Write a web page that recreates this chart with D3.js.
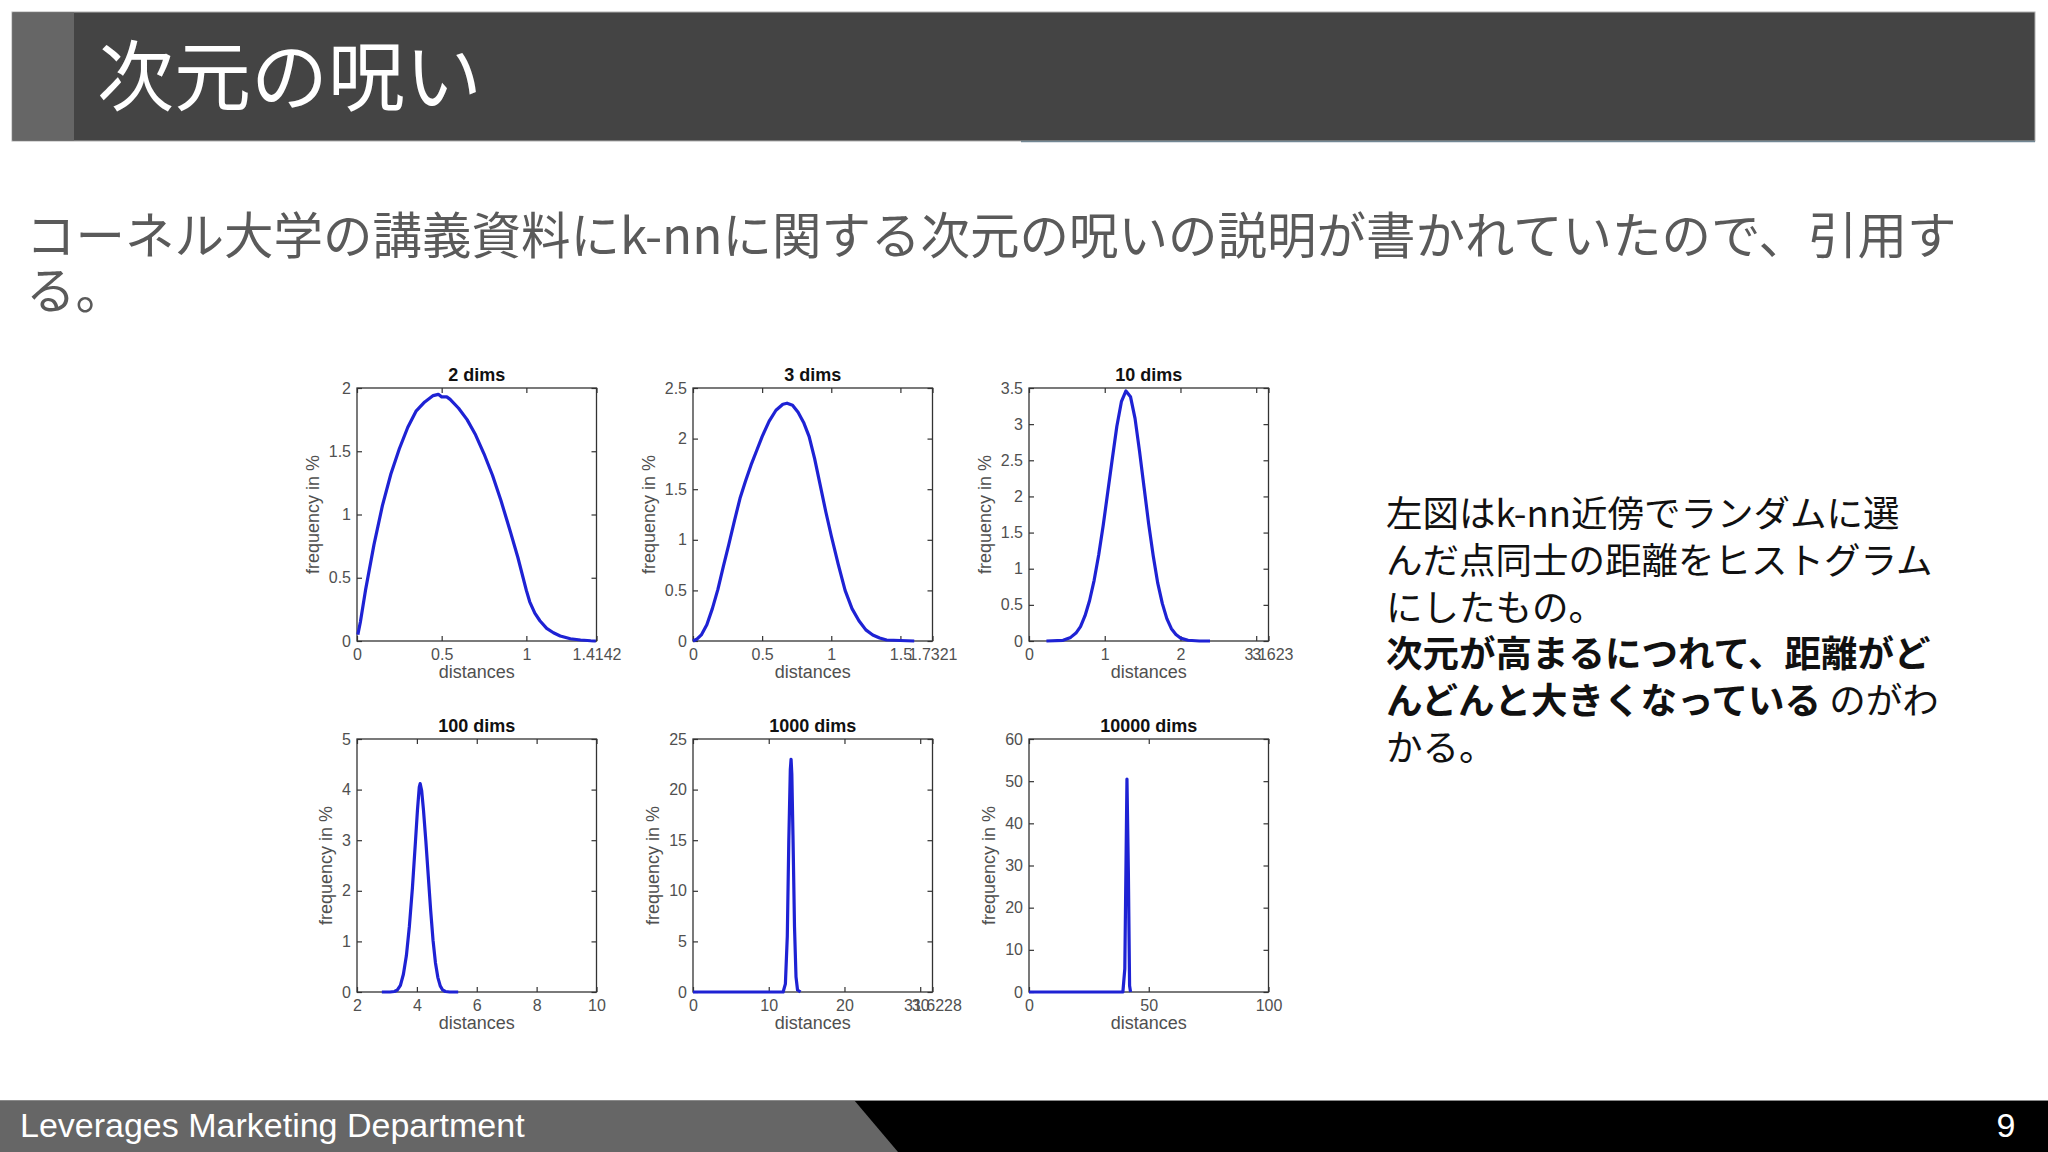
<!DOCTYPE html>
<html><head><meta charset="utf-8">
<script src="https://cdn.jsdelivr.net/npm/d3@7"></script>
<style>html,body{margin:0;padding:0;background:#fff;} svg{display:block;}</style>
</head><body>
<svg id="c" width="2048" height="1152"></svg>
<script>
// ---------- text content ----------
const slideTitle = "次元の呪い";
const introLines = ["コーネル大学の講義資料にk-nnに関する次元の呪いの説明が書かれていたので、引用す", "る。"];
const noteLines = [
  [["左図はk-nn近傍でランダムに選", false]],
  [["んだ点同士の距離をヒストグラム", false]],
  [["にしたもの。", false]],
  [["次元が高まるにつれて、距離がど", true]],
  [["んどんと大きくなっている", true], [" のがわ", false]],
  [["かる。", false]]
];
const footerText = "Leverages Marketing Department";
const pageNumber = "9";

// ---------- chart data ----------
const panelTitles = ["2 dims", "3 dims", "10 dims", "100 dims", "1000 dims", "10000 dims"];
const xDomains = [[0, 1.4142], [0, 1.7321], [0, 3.1623], [2, 10], [0, 31.6228], [0, 100]];
const yDomains = [[0, 2], [0, 2.5], [0, 3.5], [0, 5], [0, 25], [0, 60]];
const xTickValues = [[0, 0.5, 1, 1.4142], [0, 0.5, 1, 1.5, 1.7321], [0, 1, 2, 3, 3.1623], [2, 4, 6, 8, 10], [0, 10, 20, 30, 31.6228], [0, 50, 100]];
const xTickLabels = [["0", "0.5", "1", "1.4142"], ["0", "0.5", "1", "1.5", "1.7321"], ["0", "1", "2", "3", "3.1623"], ["2", "4", "6", "8", "10"], ["0", "10", "20", "30", "31.6228"], ["0", "50", "100"]];
const yTickValues = [[0, 0.5, 1, 1.5, 2], [0, 0.5, 1, 1.5, 2, 2.5], [0, 0.5, 1, 1.5, 2, 2.5, 3, 3.5], [0, 1, 2, 3, 4, 5], [0, 5, 10, 15, 20, 25], [0, 10, 20, 30, 40, 50, 60]];
const yTickLabels = [["0", "0.5", "1", "1.5", "2"], ["0", "0.5", "1", "1.5", "2", "2.5"], ["0", "0.5", "1", "1.5", "2", "2.5", "3", "3.5"], ["0", "1", "2", "3", "4", "5"], ["0", "5", "10", "15", "20", "25"], ["0", "10", "20", "30", "40", "50", "60"]];
const xLabel = "distances";
const yLabel = "frequency in %";

const dist2 = [0.005, 0.02, 0.05, 0.10, 0.15, 0.20, 0.25, 0.30, 0.35, 0.40, 0.45, 0.48, 0.50, 0.53, 0.55, 0.60, 0.65, 0.70, 0.75, 0.80, 0.85, 0.90, 0.95, 1.00, 1.02, 1.05, 1.08, 1.12, 1.16, 1.20, 1.26, 1.32, 1.38, 1.41];
const freq2 = [0.05, 0.15, 0.40, 0.76, 1.07, 1.32, 1.52, 1.69, 1.82, 1.89, 1.94, 1.95, 1.93, 1.93, 1.91, 1.84, 1.75, 1.63, 1.48, 1.31, 1.11, 0.89, 0.66, 0.40, 0.31, 0.22, 0.16, 0.10, 0.065, 0.04, 0.018, 0.008, 0.002, 0.0];

const dist3 = [0.00, 0.03, 0.06, 0.10, 0.14, 0.18, 0.22, 0.26, 0.30, 0.34, 0.38, 0.42, 0.46, 0.50, 0.55, 0.60, 0.65, 0.68, 0.72, 0.76, 0.80, 0.84, 0.88, 0.92, 0.96, 1.00, 1.05, 1.10, 1.15, 1.20, 1.25, 1.30, 1.35, 1.40, 1.50, 1.60];
const freq3 = [0.00, 0.02, 0.06, 0.16, 0.32, 0.51, 0.74, 0.96, 1.19, 1.41, 1.58, 1.74, 1.88, 2.02, 2.17, 2.28, 2.34, 2.35, 2.33, 2.26, 2.16, 2.02, 1.80, 1.54, 1.28, 1.04, 0.76, 0.50, 0.32, 0.20, 0.11, 0.06, 0.03, 0.01, 0.005, 0.00];

const dist10 = [0.23, 0.45, 0.55, 0.62, 0.68, 0.74, 0.80, 0.86, 0.92, 0.98, 1.04, 1.10, 1.16, 1.22, 1.28, 1.34, 1.40, 1.46, 1.52, 1.58, 1.64, 1.70, 1.76, 1.82, 1.88, 1.94, 2.00, 2.10, 2.25, 2.39];
const freq10 = [0.00, 0.01, 0.05, 0.11, 0.20, 0.35, 0.56, 0.84, 1.19, 1.60, 2.06, 2.52, 2.97, 3.31, 3.46, 3.38, 3.08, 2.62, 2.12, 1.62, 1.18, 0.80, 0.52, 0.31, 0.17, 0.09, 0.04, 0.01, 0.00, 0.00];

const dist100 = [2.83, 3.10, 3.25, 3.35, 3.45, 3.55, 3.65, 3.75, 3.85, 3.95, 4.02, 4.08, 4.11, 4.16, 4.22, 4.30, 4.38, 4.46, 4.54, 4.62, 4.70, 4.78, 4.86, 4.95, 5.10, 5.38];
const freq100 = [0.00, 0.00, 0.01, 0.04, 0.13, 0.35, 0.72, 1.30, 2.05, 2.95, 3.60, 4.05, 4.12, 3.98, 3.60, 2.98, 2.30, 1.62, 1.02, 0.58, 0.29, 0.12, 0.04, 0.01, 0.00, 0.00];

const dist1000 = [0, 11.9, 12.2, 12.45, 12.65, 12.85, 12.95, 13.05, 13.2, 13.4, 13.6, 13.8, 14.2];
const freq1000 = [0, 0, 0.8, 5.5, 15.0, 22.0, 23.0, 21.5, 15.5, 6.5, 1.5, 0.2, 0];

const dist10000 = [0, 39.2, 40.0, 40.9, 41.5, 42.0, 42.4];
const freq10000 = [0, 0, 5.5, 50.5, 28.0, 1.5, 0];

const seriesX = [dist2, dist3, dist10, dist100, dist1000, dist10000];
const seriesY = [freq2, freq3, freq10, freq100, freq1000, freq10000];

// ---------- drawing ----------
const svg = d3.select("#c");
const JP = "'Noto Sans CJK JP', 'Noto Sans', sans-serif";
const SANS = "'Liberation Sans', Arial, Helvetica, sans-serif";

// header
svg.append("rect").attr("x", 12).attr("y", 12).attr("width", 2023).attr("height", 129)
  .attr("fill", "#444444").attr("stroke", "#b0b0b0").attr("stroke-width", 1);
svg.append("rect").attr("x", 12.5).attr("y", 12.5).attr("width", 61.5).attr("height", 128)
  .attr("fill", "#666666");
svg.append("line").attr("x1", 1021).attr("x2", 2035).attr("y1", 141.5).attr("y2", 141.5)
  .attr("stroke", "#5a7484").attr("stroke-width", 1.5).attr("opacity", 0.8);
svg.append("text").attr("x", 97).attr("y", 71).attr("dominant-baseline", "central")
  .attr("font-family", JP).attr("font-size", 77).attr("fill", "#ffffff").text(slideTitle);

// intro text
svg.selectAll("text.intro").data(introLines).enter().append("text").attr("class", "intro")
  .attr("x", 26).attr("y", (d, i) => 232 + i * 55).attr("dominant-baseline", "central")
  .attr("font-family", JP).attr("font-size", 49.5).attr("fill", "#5a5a5a").text(d => d);

// note text
const note = svg.selectAll("text.note").data(noteLines).enter().append("text").attr("class", "note")
  .attr("x", 1386).attr("y", (d, i) => 511 + i * 46.8).attr("dominant-baseline", "central")
  .attr("font-family", JP).attr("font-size", 36.5).attr("fill", "#111111");
note.selectAll("tspan").data(d => d).enter().append("tspan")
  .attr("font-weight", d => d[1] ? 700 : 400).style("white-space", "pre").text(d => d[0]);

// panels
const colLeft = [357, 693, 1029];
const rowTop = [388, 739];
const pw = 239.5, ph = 253;

panelTitles.forEach((title, i) => {
  const col = i % 3, row = Math.floor(i / 3);
  const g = svg.append("g").attr("transform", `translate(${colLeft[col]},${rowTop[row]})`);
  const x = d3.scaleLinear().domain(xDomains[i]).range([0, pw]);
  const y = d3.scaleLinear().domain(yDomains[i]).range([ph, 0]);

  const xl = xTickLabels[i], yl = yTickLabels[i];
  const axB = d3.axisBottom(x).tickValues(xTickValues[i]).tickSize(-5).tickPadding(8)
    .tickFormat((d, k) => xl[k]);
  const axT = d3.axisTop(x).tickValues(xTickValues[i]).tickSize(-5).tickFormat("");
  const axL = d3.axisLeft(y).tickValues(yTickValues[i]).tickSize(-5).tickPadding(6)
    .tickFormat((d, k) => yl[k]);
  const axR = d3.axisRight(y).tickValues(yTickValues[i]).tickSize(-5).tickFormat("");

  const style = sel => {
    sel.select(".domain").remove();
    sel.selectAll(".tick line").attr("stroke", "#333").attr("stroke-width", 1.2);
    sel.selectAll(".tick text").attr("font-family", SANS).attr("font-size", 16).attr("fill", "#505050");
  };
  g.append("g").attr("transform", `translate(0,${ph})`).call(axB).call(style);
  g.append("g").call(axT).call(style);
  const gl = g.append("g").call(axL).call(style);
  g.append("g").attr("transform", `translate(${pw},0)`).call(axR).call(style);

  g.append("rect").attr("width", pw).attr("height", ph).attr("fill", "none")
    .attr("stroke", "#333").attr("stroke-width", 1.3);

  const line = d3.line().x((d, k) => x(seriesX[i][k])).y(d => y(d));
  g.append("path").datum(seriesY[i]).attr("d", line).attr("fill", "none")
    .attr("stroke", "#1e22d4").attr("stroke-width", 3.2).attr("stroke-linejoin", "round");

  g.append("text").attr("x", pw / 2).attr("y", -13).attr("dominant-baseline", "central")
    .attr("text-anchor", "middle").attr("font-family", SANS).attr("font-weight", 700)
    .attr("font-size", 18).attr("fill", "#111").text(title);
  g.append("text").attr("x", pw / 2).attr("y", ph + 31).attr("dominant-baseline", "central")
    .attr("text-anchor", "middle").attr("font-family", SANS).attr("font-size", 18)
    .attr("fill", "#505050").text(xLabel);

  let maxW = 0;
  gl.selectAll(".tick text").each(function () { maxW = Math.max(maxW, this.getComputedTextLength()); });
  const lx = -(6 + maxW + 8 + 8);
  g.append("text").attr("transform", `translate(${lx},${ph / 2}) rotate(-90)`)
    .attr("dominant-baseline", "central").attr("text-anchor", "middle")
    .attr("font-family", SANS).attr("font-size", 18).attr("fill", "#505050").text(yLabel);
});

// footer
svg.append("rect").attr("x", 0).attr("y", 1100).attr("width", 2048).attr("height", 52).attr("fill", "#000000");
svg.append("path").attr("d", d3.line()([[0, 1100], [854, 1100], [898, 1152], [0, 1152]]) + "Z").attr("fill", "#666666");
svg.append("line").attr("x1", 0).attr("x2", 2048).attr("y1", 1100.5).attr("y2", 1100.5)
  .attr("stroke", "#8a8a8a").attr("stroke-width", 1);
svg.append("text").attr("x", 20).attr("y", 1125).attr("dominant-baseline", "central")
  .attr("font-family", SANS).attr("font-size", 34).attr("fill", "#ffffff").text(footerText);
svg.append("text").attr("x", 2006).attr("y", 1125).attr("dominant-baseline", "central")
  .attr("text-anchor", "middle").attr("font-family", SANS).attr("font-size", 34)
  .attr("fill", "#ffffff").text(pageNumber);
</script>
</body></html>
